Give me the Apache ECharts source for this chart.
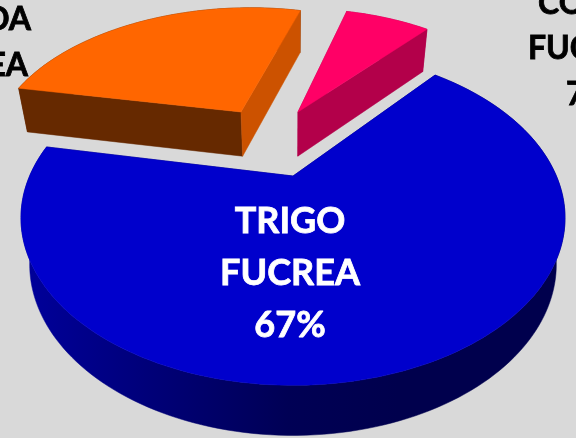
<!DOCTYPE html>
<html><head><meta charset="utf-8">
<style>html,body{margin:0;padding:0;background:#d9d9d9}#c{width:576px;height:438px}</style>
<script src="https://cdn.jsdelivr.net/npm/echarts@6/dist/echarts.min.js"></script>
</head><body><div id="c"></div>
<script>
var categories = ['TRIGO FUCREA', 'CEBADA FUCREA', 'COLZA FUCREA'];
var shares = [67, 26, 7];
var startAngle = 40;
var topColors = ['#0000CC', '#FF6600', '#FF0066'];
var startWall = ['#000066', '#662900', '#B3004A'];
var endWall = ['#000066', '#CC5200', '#B3004A'];
var rimWall = [
  { type: 'linear', x: 30, y: 0, x2: 556, y2: 0, global: true, colorStops: [
    { offset: 0, color: '#000099' }, { offset: 0.23, color: '#000078' },
    { offset: 0.49, color: '#000055' }, { offset: 0.7, color: '#00004D' }, { offset: 1, color: '#00004D' } ] },
  '#662900', '#B3004A'
];
var offsets = [[0, 0], [-0.22, 0.454], [0.021, 0.454]];
var radii = [1, 1.01, 1];
var labelLines = [
  [['TRIGO', 290, 221, 'center'], ['FUCREA', 290, 273, 'center'], ['67%', 290, 325, 'center']],
  [['CEBADA', 31, 20, 'right'], ['FUCREA', 28, 66, 'right'], ['26%', -11, 112, 'right']],
  [['COLZA', 538, 4, 'left'], ['FUCREA', 528, 49, 'left'], ['7%', 566, 95, 'left']]
];
var labelStyle = [['#FFFFFF', 36], ['#000000', 32], ['#000000', 32]];

var CX = 293, CY = 176, A = 263.4, B = 157, K = 0.25;
function proj(u, v) { var w = 1 + K * v; return [CX + A * u / w, CY - B * v / w]; }
function drop(p) { return [CX + (p[0] - CX) * 0.968, p[1] * 1.0215 + 41.8]; }
function poly(pts, color, z) {
  return { type: 'polygon', z2: z, shape: { points: pts }, style: { fill: color, stroke: color, lineWidth: 0.5 } };
}
function renderItem(params, api) {
  var i = params.dataIndex, before = 0, total = 0;
  shares.forEach(function (s, j) { total += s; if (j < i) before += s; });
  var a0 = startAngle + before / total * 360;
  var a1 = a0 + api.value(0) / total * 360;
  var off = offsets[i], R = radii[i];
  var apex = proj(off[0], off[1]);
  var rim = [], n = Math.max(8, Math.round((a1 - a0) / 1.5));
  for (var k = 0; k <= n; k++) {
    var a = (a0 + (a1 - a0) * k / n) * Math.PI / 180;
    rim.push(proj(off[0] + R * Math.sin(a), off[1] + R * Math.cos(a)));
  }
  var kids = [];
  kids.push(poly(rim.concat(rim.map(drop).reverse()), rimWall[i], 1));
  kids.push(poly([apex, rim[0], drop(rim[0]), drop(apex)], startWall[i], 2));
  kids.push(poly([apex, rim[n], drop(rim[n]), drop(apex)], endWall[i], 3));
  kids.push(poly([apex].concat(rim), topColors[i], 4));
  labelLines[i].forEach(function (l) {
    kids.push({ type: 'text', z2: 10, style: {
      text: l[0], x: l[1], y: l[2], align: l[3], verticalAlign: 'middle',
      fill: labelStyle[i][0], stroke: labelStyle[i][0], lineWidth: 0.8,
      fontSize: labelStyle[i][1], fontWeight: 'bold', fontFamily: 'Lato'
    } });
  });
  return { type: 'group', children: kids };
}
var chart = echarts.init(document.getElementById('c'), null, { renderer: 'canvas' });
chart.setOption({
  animation: false,
  backgroundColor: '#D9D9D9',
  series: [
    { type: 'custom', coordinateSystem: 'none', renderItem: renderItem, clip: false, silent: true,
      data: shares.map(function (s, i) { return { name: categories[i], value: [s] }; }) }
  ]
});
</script></body></html>
